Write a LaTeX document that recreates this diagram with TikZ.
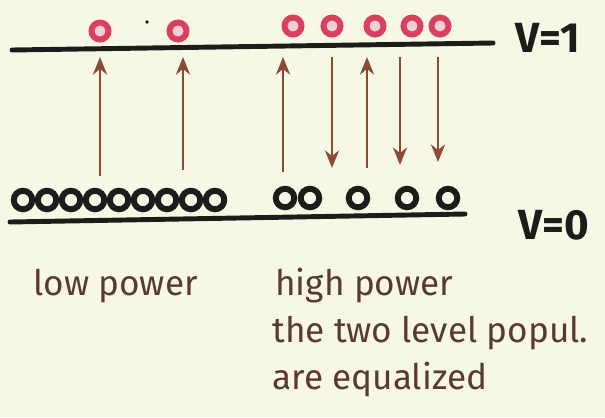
\documentclass[tikz,border=0pt]{standalone}
\usepackage{fontspec}
\setmainfont{Fira Sans}
\usetikzlibrary{arrows.meta,positioning}
\definecolor{paper}{HTML}{F7F7E6}
\definecolor{levelink}{HTML}{1C1C1A}
\definecolor{upred}{HTML}{D8405E}
\definecolor{pumpbrown}{HTML}{8A4A34}
\definecolor{noteink}{HTML}{5A3A2E}

\begin{document}
\begin{tikzpicture}[x=0.02cm, y=-0.02cm,
  level/.style={line width=2.8pt, levelink, line cap=round},
  upmol/.style={circle, draw=upred, fill=upred!25, line width=3.4pt, minimum size=0.34cm, inner sep=0pt},
  lowmol/.style={circle, draw=levelink, fill=paper, line width=3.4pt, minimum size=0.37cm, inner sep=0pt},
  pump/.style={-{Stealth[length=10pt, width=8pt]}, line width=1.6pt, pumpbrown},
  lvlabel/.style={font=\fontsize{24}{24}\selectfont\bfseries, levelink, inner sep=0pt, anchor=west},
  note/.style={font=\fontsize{20}{26}\selectfont, noteink, inner sep=0pt, anchor=base west}
]
  \useasboundingbox (0,0) rectangle (605,417);
  \fill[paper] (0,0) rectangle (605,417);

  % the two levels
  \coordinate (upwest) at (12,50);
  \coordinate (upeast) at (493,43);
  \coordinate (lowwest) at (10,222);
  \coordinate (loweast) at (465,214);
  \draw[level] (upwest) -- (upeast);
  \draw[level] (lowwest) -- (loweast);
  \node[lvlabel] (vone) at (515,38) {V=1};
  \node[lvlabel] (vzero) at (518,225) {V=0};

  % molecules in v=1
  \node[upmol] (ua) at (100,31) {};
  \node[upmol] (ub) at (178,31) {};
  \fill[levelink] (147,22) circle (1.8);
  \foreach \n/\x in {c/293, d/332, e/375, f/412, g/440}
    \node[upmol] (u\n) at (\x,26) {};

  % molecules in v=0
  \foreach \i in {0,...,8}
    \node[lowmol] (la\i) at (23+24*\i,200) {};
  \foreach \n/\x in {a/285, b/310, c/358, d/407, e/448}
    \node[lowmol] (lb\n) at (\x,198) {};

  % absorption and stimulated emission
  \foreach \n/\x/\b in {a/100/176, b/183/170, c/283/172, d/367/168} {
    \coordinate (gnd\n) at (\x,\b);
    \coordinate (exc\n) at (\x,57);
    \draw[pump] (gnd\n) -- (exc\n);
  }
  \foreach \n/\x/\t in {e/332/168, f/400/165, g/438/162} {
    \coordinate (exc\n) at (\x,57);
    \coordinate (gnd\n) at (\x,\t);
    \draw[pump] (exc\n) -- (gnd\n);
  }

  % notes
  \node[note] (low) at (33,295) {low power};
  \node[note] (high) at (275,295) {high power};
  \node[note] (popul) at (272,342) {the two level popul.};
  \node[note] (equal) at (272,389) {are equalized};
\end{tikzpicture}
\end{document}
